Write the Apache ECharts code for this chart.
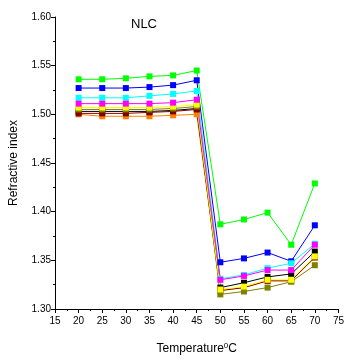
<!DOCTYPE html>
<html>
<head>
<meta charset="utf-8">
<script src="https://cdn.jsdelivr.net/npm/echarts@6/dist/echarts.min.js"></script>
<style>
  html, body { margin: 0; padding: 0; background: #fff; }
  #chart { width: 347px; height: 360px; }
</style>
</head>
<body>
<div id="chart"></div>
<script>
// temperatures (°C)
const temps = [20, 25, 30, 35, 40, 45, 50, 55, 60, 65, 70];

// refractive index per sample
const greenVals   = [1.536, 1.536, 1.537, 1.539, 1.540, 1.545, 1.387, 1.392, 1.399, 1.366, 1.429];
const blueVals    = [1.527, 1.527, 1.527, 1.528, 1.530, 1.535, 1.348, 1.352, 1.358, 1.349, 1.386];
const cyanVals    = [1.517, 1.517, 1.517, 1.519, 1.521, 1.524, 1.331, 1.335, 1.342, 1.347, 1.367];
const magentaVals = [1.511, 1.511, 1.511, 1.511, 1.512, 1.515, 1.330, 1.334, 1.340, 1.340, 1.366];
const yellowVals  = [1.507, 1.507, 1.507, 1.507, 1.508, 1.510, 1.320, 1.323, 1.330, 1.330, 1.354];
const oliveVals   = [1.505, 1.505, 1.505, 1.505, 1.506, 1.508, 1.315, 1.318, 1.322, 1.328, 1.345];
const blackVals   = [1.503, 1.503, 1.503, 1.503, 1.504, 1.506, 1.322, 1.327, 1.333, 1.336, 1.359];
const maroonVals  = [1.501, 1.501, 1.501, 1.502, 1.503, 1.505, 1.319, 1.322, 1.329, 1.329, 1.353];
const orangeVals  = [1.500, 1.498, 1.498, 1.498, 1.499, 1.500, 1.319, 1.322, 1.329, 1.329, 1.353];

const font = 'Liberation Sans';

function mk(vals, color) {
    return {
        type: 'line',
        data: temps.map((t, i) => [t, vals[i]]),
        symbol: 'rect',
        symbolSize: 6,
        lineStyle: { width: 1, color: color },
        itemStyle: { color: color },
        animation: false
    };
}

const chart = echarts.init(document.getElementById('chart'));
chart.setOption({
    backgroundColor: '#fff',
    title: {
        text: 'NLC',
        left: 126,
        top: 13,
        textStyle: { fontFamily: font, fontSize: 13, fontWeight: 'normal', color: '#000' }
    },
    grid: { left: 51, right: 6, top: 17, bottom: 49 },
    xAxis: {
        type: 'value',
        min: 15, max: 75, interval: 5,
        name: 'Temperature{sup|0}C',
        nameLocation: 'middle',
        nameGap: 33,
        nameTextStyle: {
            fontFamily: font, fontSize: 12, color: '#000',
            rich: { sup: { fontFamily: font, fontSize: 8, verticalAlign: 'top', padding: [0, 0, 6, 0] } }
        },
        axisLine: { lineStyle: { color: '#000', width: 1 } },
        axisTick: { inside: false, length: 4, lineStyle: { color: '#000' } },
        minorTick: { show: true, splitNumber: 2, length: 2, lineStyle: { color: '#000' } },
        axisLabel: { fontFamily: font, fontSize: 10, color: '#000', margin: 7 },
        splitLine: { show: false }
    },
    yAxis: {
        type: 'value',
        min: 1.30, max: 1.60, interval: 0.05,
        name: 'Refractive index',
        nameLocation: 'middle',
        nameGap: 35,
        nameTextStyle: { fontFamily: font, fontSize: 12, color: '#000' },
        axisLine: { show: true, lineStyle: { color: '#000', width: 1 } },
        axisTick: { show: true, inside: false, length: 4, lineStyle: { color: '#000' } },
        minorTick: { show: true, splitNumber: 2, length: 2, lineStyle: { color: '#000' } },
        axisLabel: {
            fontFamily: font, fontSize: 10, color: '#000', margin: 4,
            formatter: v => v.toFixed(2)
        },
        splitLine: { show: false }
    },
    series: [
        mk(orangeVals, '#ff8000'),
        mk(blackVals, '#000000'),
        mk(maroonVals, '#800000'),
        mk(oliveVals, '#808000'),
        mk(yellowVals, '#ffff00'),
        mk(greenVals, '#00ff00'),
        mk(blueVals, '#0000ff'),
        mk(cyanVals, '#00ffff'),
        mk(magentaVals, '#ff00ff')
    ]
});
</script>
</body>
</html>
